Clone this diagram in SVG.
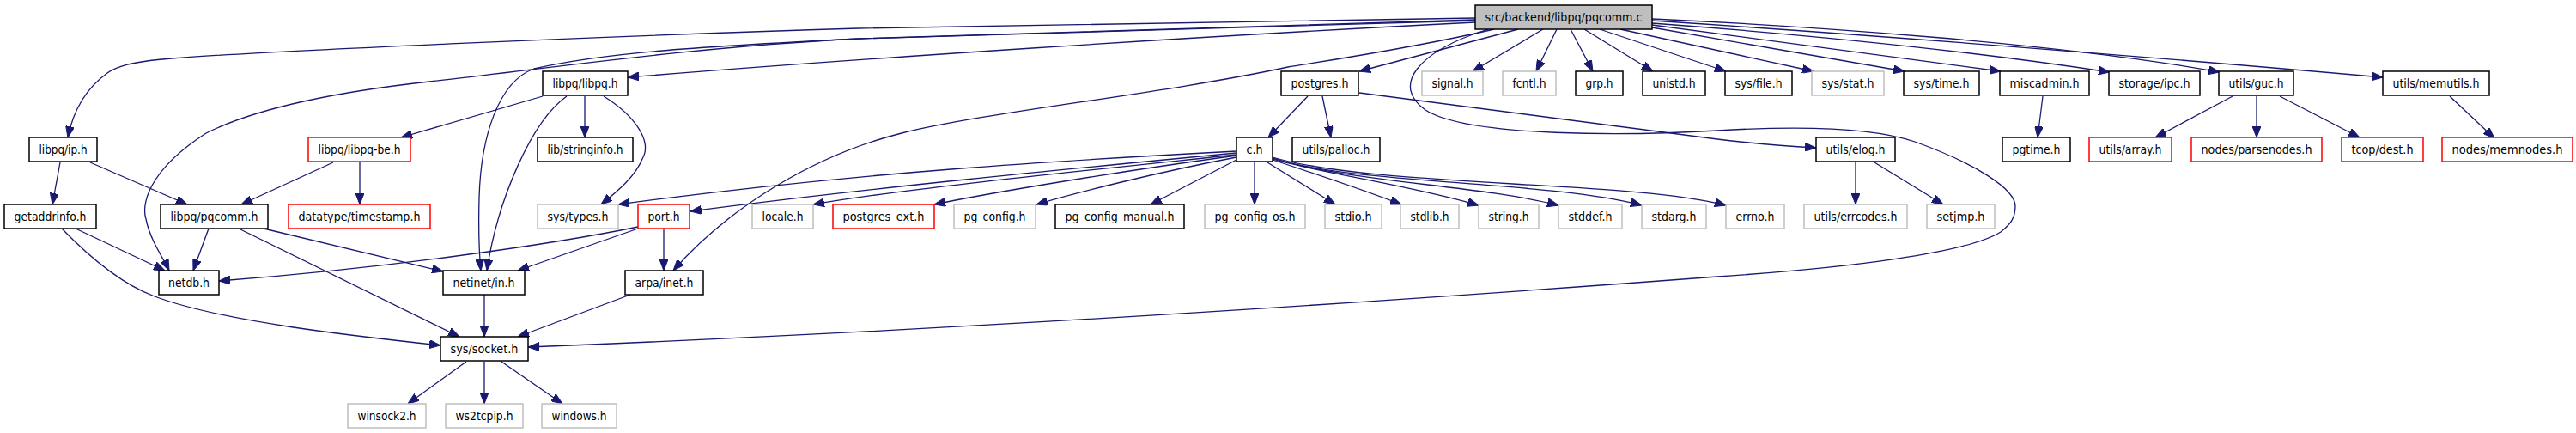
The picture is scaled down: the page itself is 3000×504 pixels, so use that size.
<svg xmlns="http://www.w3.org/2000/svg" width="3000" height="504" viewBox="0 0 3000 504">
<style>
.n rect{fill:#ffffff;stroke-width:1.5}
.b rect{stroke:#000000}
.g rect{stroke:#bfbfbf}
.r rect{stroke:#ff0000}
.root rect{fill:#bfbfbf;stroke:#000000}
.n text{font-family:"DejaVu Sans","Liberation Sans",sans-serif;font-size:14px;fill:#000000;text-anchor:middle}
#edges path{fill:none;stroke:#191970;stroke-width:1.3;marker-end:url(#ah)}
</style>
<defs>
<marker id="ah" markerUnits="userSpaceOnUse" markerWidth="13" markerHeight="10" refX="13" refY="5" orient="auto">
<path d="M0,0 L13,5 L0,10 z" fill="#191970" stroke="#191970" stroke-width="1"/>
</marker>
</defs>
<rect width="3000" height="504" fill="#ffffff"/>
<g id="edges">
<path d="M1718,21 L1000,33 C700,42 300,60 200,68 C150,72 135,78 125,85 C100,103 85,130 79,160"/>
<path d="M1718,23 L1000,45 C800,55 620,82 500,95 C400,106 300,125 240,155 C170,200 165,240 170,255 C175,280 190,300 197,315"/>
<path d="M1718,24 L1000,45 C800,55 700,62 622,80 C580,95 560,160 558,230 C557,270 558,295 560,315"/>
<path d="M1718,26 C1400,42 1000,68 731,90"/>
<path d="M1740,34 C1650,55 1550,70 1500,78 C1350,110 1150,130 1050,155 C950,180 850,240 784,315"/>
<path d="M1768,34 L1583,83"/>
<path d="M1733,34 C1650,60 1620,100 1660,128 C1710,160 1900,158 2000,152 C2100,146 2180,148 2230,165 C2300,190 2347,220 2347,240 C2347,255 2340,262 2330,270 C2290,295 2150,312 2000,322 C1600,352 1100,385 615,404"/>
<path d="M1797,34 L1715,83"/>
<path d="M1813,34 L1789,83"/>
<path d="M1829,34 L1855,83"/>
<path d="M1845,34 L1925,83"/>
<path d="M1863,34 L2010,83"/>
<path d="M1887,34 L2112,83"/>
<path d="M1924,32 L2218,83"/>
<path d="M1924,29 L2330,83"/>
<path d="M1924,27 C2100,40 2300,60 2457,84"/>
<path d="M1924,22 C2100,30 2400,50 2585,84"/>
<path d="M1924,24 C2200,42 2500,66 2775,90"/>
<path d="M1523,112 L1477,160"/>
<path d="M1540,112 L1550,160"/>
<path d="M1583,108 L2000,162 C2050,168 2080,170 2115,172"/>
<path d="M1440,176 C1250,186 1000,200 720,238"/>
<path d="M1440,178 C1250,196 1000,220 804,246"/>
<path d="M1440,180 C1250,200 1050,220 947,238"/>
<path d="M1440,181 C1300,200 1150,225 1088,238"/>
<path d="M1440,183 C1350,200 1250,225 1207,238"/>
<path d="M1440,186 L1340,238"/>
<path d="M1461,189 L1461,238"/>
<path d="M1476,189 L1555,238"/>
<path d="M1482,186 C1540,205 1590,222 1632,238"/>
<path d="M1482,185 C1530,200 1640,215 1722,239"/>
<path d="M1482,184 C1570,212 1720,215 1815,239"/>
<path d="M1482,184 C1580,215 1800,210 1912,239"/>
<path d="M1482,183 C1600,218 1900,210 2010,239"/>
<path d="M2161,189 L2161,238"/>
<path d="M2183,189 L2263,238"/>
<path d="M2379,112 L2373,160"/>
<path d="M2600,112 L2510,160"/>
<path d="M2628,112 L2628,160"/>
<path d="M2655,112 L2748,160"/>
<path d="M2853,112 L2905,161"/>
<path d="M632,112 L467,160"/>
<path d="M681,112 L681,160"/>
<path d="M703,112 C740,135 760,165 748,185 C740,205 720,222 700,238"/>
<path d="M660,112 C620,140 580,230 567,315"/>
<path d="M388,189 L281,238"/>
<path d="M419,189 L419,238"/>
<path d="M70,189 L61,238"/>
<path d="M105,189 L218,238"/>
<path d="M88,266 L192,315"/>
<path d="M72,266 C100,295 140,330 180,345 C260,375 420,392 513,402"/>
<path d="M243,266 L225,315"/>
<path d="M278,266 L535,392"/>
<path d="M307,266 L516,316"/>
<path d="M743,264 C640,285 450,312 255,327"/>
<path d="M743,266 L603,315"/>
<path d="M773,266 L773,315"/>
<path d="M564,343 L564,392"/>
<path d="M734,343 L603,392"/>
<path d="M543,421 L475,470"/>
<path d="M564,421 L564,470"/>
<path d="M584,421 L655,470"/>
</g>
<g id="root" class="n root"><rect x="1718" y="6" width="206" height="28"/><text x="1821" y="24.5" textLength="183" lengthAdjust="spacingAndGlyphs">src/backend/libpq/pqcomm.c</text></g>
<g id="libpq_ip" class="n b"><rect x="34" y="160" width="79" height="28"/><text x="73.5" y="178.5" textLength="56" lengthAdjust="spacingAndGlyphs">libpq/ip.h</text></g>
<g id="getaddrinfo" class="n b"><rect x="5" y="238" width="107" height="28"/><text x="58.5" y="256.5" textLength="84" lengthAdjust="spacingAndGlyphs">getaddrinfo.h</text></g>
<g id="pqcomm_h" class="n b"><rect x="187" y="238" width="125" height="28"/><text x="249.5" y="256.5" textLength="102" lengthAdjust="spacingAndGlyphs">libpq/pqcomm.h</text></g>
<g id="libpq_be" class="n r"><rect x="359" y="160" width="119" height="28"/><text x="418.5" y="178.5" textLength="96" lengthAdjust="spacingAndGlyphs">libpq/libpq-be.h</text></g>
<g id="timestamp" class="n r"><rect x="336" y="238" width="165" height="28"/><text x="418.5" y="256.5" textLength="142" lengthAdjust="spacingAndGlyphs">datatype/timestamp.h</text></g>
<g id="netdb" class="n b"><rect x="185" y="315" width="70" height="28"/><text x="220" y="333.5" textLength="48" lengthAdjust="spacingAndGlyphs">netdb.h</text></g>
<g id="winsock2" class="n g"><rect x="405" y="470" width="91" height="28"/><text x="450.5" y="488.5" textLength="68" lengthAdjust="spacingAndGlyphs">winsock2.h</text></g>
<g id="libpq_h" class="n b"><rect x="632" y="83" width="99" height="28"/><text x="681.5" y="101.5" textLength="76" lengthAdjust="spacingAndGlyphs">libpq/libpq.h</text></g>
<g id="stringinfo" class="n b"><rect x="626" y="160" width="111" height="28"/><text x="681.5" y="178.5" textLength="88" lengthAdjust="spacingAndGlyphs">lib/stringinfo.h</text></g>
<g id="sys_types" class="n g"><rect x="626" y="238" width="94" height="28"/><text x="673" y="256.5" textLength="71" lengthAdjust="spacingAndGlyphs">sys/types.h</text></g>
<g id="port" class="n r"><rect x="743" y="238" width="60" height="28"/><text x="773" y="256.5" textLength="37" lengthAdjust="spacingAndGlyphs">port.h</text></g>
<g id="locale" class="n g"><rect x="876" y="238" width="71" height="28"/><text x="911.5" y="256.5" textLength="48" lengthAdjust="spacingAndGlyphs">locale.h</text></g>
<g id="postgres_ext" class="n r"><rect x="970" y="238" width="118" height="28"/><text x="1029" y="256.5" textLength="95" lengthAdjust="spacingAndGlyphs">postgres_ext.h</text></g>
<g id="netinet" class="n b"><rect x="516" y="315" width="95" height="28"/><text x="563.5" y="333.5" textLength="72" lengthAdjust="spacingAndGlyphs">netinet/in.h</text></g>
<g id="arpa" class="n b"><rect x="728" y="315" width="91" height="28"/><text x="773.5" y="333.5" textLength="68" lengthAdjust="spacingAndGlyphs">arpa/inet.h</text></g>
<g id="socket" class="n b"><rect x="513" y="392" width="102" height="28"/><text x="564" y="410.5" textLength="79" lengthAdjust="spacingAndGlyphs">sys/socket.h</text></g>
<g id="ws2tcpip" class="n g"><rect x="519" y="470" width="90" height="28"/><text x="564" y="488.5" textLength="67" lengthAdjust="spacingAndGlyphs">ws2tcpip.h</text></g>
<g id="windows" class="n g"><rect x="631" y="470" width="87" height="28"/><text x="674.5" y="488.5" textLength="64" lengthAdjust="spacingAndGlyphs">windows.h</text></g>
<g id="pg_config" class="n g"><rect x="1111" y="238" width="95" height="28"/><text x="1158.5" y="256.5" textLength="72" lengthAdjust="spacingAndGlyphs">pg_config.h</text></g>
<g id="pg_config_manual" class="n b"><rect x="1229" y="238" width="150" height="28"/><text x="1304" y="256.5" textLength="127" lengthAdjust="spacingAndGlyphs">pg_config_manual.h</text></g>
<g id="pg_config_os" class="n g"><rect x="1403" y="238" width="117" height="28"/><text x="1461.5" y="256.5" textLength="94" lengthAdjust="spacingAndGlyphs">pg_config_os.h</text></g>
<g id="c_h" class="n b"><rect x="1440" y="160" width="42" height="28"/><text x="1461" y="178.5" textLength="19" lengthAdjust="spacingAndGlyphs">c.h</text></g>
<g id="postgres" class="n b"><rect x="1492" y="83" width="90" height="28"/><text x="1537" y="101.5" textLength="67" lengthAdjust="spacingAndGlyphs">postgres.h</text></g>
<g id="palloc" class="n b"><rect x="1505" y="160" width="102" height="28"/><text x="1556" y="178.5" textLength="79" lengthAdjust="spacingAndGlyphs">utils/palloc.h</text></g>
<g id="stdio" class="n g"><rect x="1543" y="238" width="66" height="28"/><text x="1576" y="256.5" textLength="43" lengthAdjust="spacingAndGlyphs">stdio.h</text></g>
<g id="stdlib" class="n g"><rect x="1631" y="238" width="68" height="28"/><text x="1665" y="256.5" textLength="45" lengthAdjust="spacingAndGlyphs">stdlib.h</text></g>
<g id="string" class="n g"><rect x="1722" y="238" width="70" height="28"/><text x="1757" y="256.5" textLength="47" lengthAdjust="spacingAndGlyphs">string.h</text></g>
<g id="stddef" class="n g"><rect x="1815" y="238" width="74" height="28"/><text x="1852" y="256.5" textLength="51" lengthAdjust="spacingAndGlyphs">stddef.h</text></g>
<g id="stdarg" class="n g"><rect x="1912" y="238" width="75" height="28"/><text x="1949.5" y="256.5" textLength="52" lengthAdjust="spacingAndGlyphs">stdarg.h</text></g>
<g id="signal" class="n g"><rect x="1656" y="83" width="71" height="28"/><text x="1691.5" y="101.5" textLength="48" lengthAdjust="spacingAndGlyphs">signal.h</text></g>
<g id="fcntl" class="n g"><rect x="1750" y="83" width="62" height="28"/><text x="1781" y="101.5" textLength="39" lengthAdjust="spacingAndGlyphs">fcntl.h</text></g>
<g id="grp" class="n b"><rect x="1835" y="83" width="55" height="28"/><text x="1862.5" y="101.5" textLength="32" lengthAdjust="spacingAndGlyphs">grp.h</text></g>
<g id="unistd" class="n b"><rect x="1913" y="83" width="73" height="28"/><text x="1949.5" y="101.5" textLength="50" lengthAdjust="spacingAndGlyphs">unistd.h</text></g>
<g id="sys_file" class="n b"><rect x="2009" y="83" width="78" height="28"/><text x="2048" y="101.5" textLength="55" lengthAdjust="spacingAndGlyphs">sys/file.h</text></g>
<g id="sys_stat" class="n g"><rect x="2110" y="83" width="84" height="28"/><text x="2152" y="101.5" textLength="61" lengthAdjust="spacingAndGlyphs">sys/stat.h</text></g>
<g id="sys_time" class="n b"><rect x="2217" y="83" width="88" height="28"/><text x="2261" y="101.5" textLength="65" lengthAdjust="spacingAndGlyphs">sys/time.h</text></g>
<g id="miscadmin" class="n b"><rect x="2329" y="83" width="104" height="28"/><text x="2381" y="101.5" textLength="81" lengthAdjust="spacingAndGlyphs">miscadmin.h</text></g>
<g id="ipc" class="n b"><rect x="2456" y="83" width="106" height="28"/><text x="2509" y="101.5" textLength="83" lengthAdjust="spacingAndGlyphs">storage/ipc.h</text></g>
<g id="errno" class="n g"><rect x="2010" y="238" width="68" height="28"/><text x="2044" y="256.5" textLength="45" lengthAdjust="spacingAndGlyphs">errno.h</text></g>
<g id="elog" class="n b"><rect x="2115" y="160" width="92" height="28"/><text x="2161" y="178.5" textLength="69" lengthAdjust="spacingAndGlyphs">utils/elog.h</text></g>
<g id="errcodes" class="n g"><rect x="2101" y="238" width="120" height="28"/><text x="2161" y="256.5" textLength="97" lengthAdjust="spacingAndGlyphs">utils/errcodes.h</text></g>
<g id="setjmp" class="n g"><rect x="2244" y="238" width="79" height="28"/><text x="2283.5" y="256.5" textLength="56" lengthAdjust="spacingAndGlyphs">setjmp.h</text></g>
<g id="pgtime" class="n b"><rect x="2332" y="160" width="79" height="28"/><text x="2371.5" y="178.5" textLength="56" lengthAdjust="spacingAndGlyphs">pgtime.h</text></g>
<g id="array" class="n r"><rect x="2433" y="160" width="96" height="28"/><text x="2481" y="178.5" textLength="73" lengthAdjust="spacingAndGlyphs">utils/array.h</text></g>
<g id="guc" class="n b"><rect x="2584" y="83" width="87" height="28"/><text x="2627.5" y="101.5" textLength="64" lengthAdjust="spacingAndGlyphs">utils/guc.h</text></g>
<g id="memutils" class="n b"><rect x="2775" y="83" width="124" height="28"/><text x="2837" y="101.5" textLength="101" lengthAdjust="spacingAndGlyphs">utils/memutils.h</text></g>
<g id="parsenodes" class="n r"><rect x="2552" y="160" width="152" height="28"/><text x="2628" y="178.5" textLength="129" lengthAdjust="spacingAndGlyphs">nodes/parsenodes.h</text></g>
<g id="dest" class="n r"><rect x="2727" y="160" width="95" height="28"/><text x="2774.5" y="178.5" textLength="72" lengthAdjust="spacingAndGlyphs">tcop/dest.h</text></g>
<g id="memnodes" class="n r"><rect x="2844" y="160" width="152" height="28"/><text x="2920" y="178.5" textLength="129" lengthAdjust="spacingAndGlyphs">nodes/memnodes.h</text></g>
</svg>
